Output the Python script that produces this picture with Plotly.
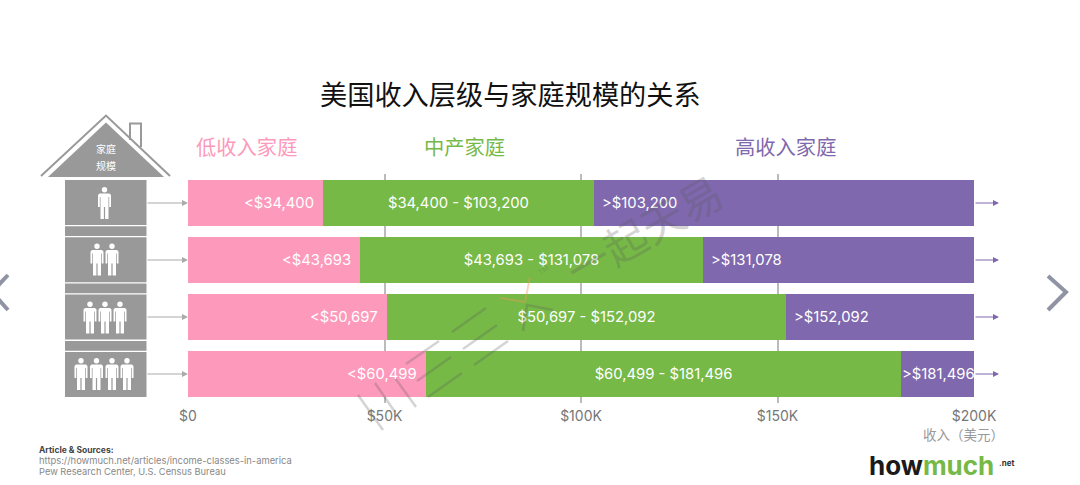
import plotly.graph_objects as go

household_sizes = ["1人", "2人", "3人", "4人"]
low_upper = [34400, 43693, 50697, 60499]
middle_upper = [103200, 131078, 152092, 181496]
axis_max = 200000
tick_values = [0, 50000, 100000, 150000, 200000]
tick_labels = ["$0", "$50K", "$100K", "$150K", "$200K"]
group_names = ["低收入家庭", "中产家庭", "高收入家庭"]

PINK, GREEN, PURPLE = "#fd9abb", "#76b947", "#7f68ad"
GREY = "#999999"
CJK = "Noto Sans CJK SC"
LAT = "Inter, Lato, sans-serif"

L, R, T, B = 188, 974, 174, 403
def px(x): return (x - L) / (R - L)
def py(y): return (B - y) / (B - T)

def fmt(v): return f"${v:,}"

middle_width = [m - l for l, m in zip(low_upper, middle_upper)]
high_width = [axis_max - m for m in middle_upper]

fig = go.Figure()
fig.add_bar(y=household_sizes, x=low_upper, orientation="h", marker=dict(color=PINK, line_width=0), hoverinfo="skip")
fig.add_bar(y=household_sizes, x=middle_width, orientation="h", marker=dict(color=GREEN, line_width=0), hoverinfo="skip",
            text=[f"{fmt(l)} - {fmt(m)}" for l, m in zip(low_upper, middle_upper)],
            textposition="inside", insidetextanchor="middle", textangle=0,
            textfont=dict(family=LAT, size=14.8, color="white"))
fig.add_bar(y=household_sizes, x=high_width, orientation="h", marker=dict(color=PURPLE, line_width=0), hoverinfo="skip")

ann = []
shapes = []

def text(x, y, s, size, color, anchor="center", font=CJK, rot=0):
    ann.append(dict(x=px(x), y=py(y), xref="paper", yref="paper", text=s, showarrow=False,
                    xanchor=anchor, yanchor="middle", textangle=rot,
                    font=dict(family=font, size=size, color=color)))

for cat, l, m in zip(household_sizes, low_upper, middle_upper):
    ann.append(dict(x=l, y=cat, xref="x", yref="y", text="&lt;" + fmt(l), showarrow=False, xanchor="right", xshift=-7,
                    font=dict(family=LAT, size=14.8, color="white")))
    ann.append(dict(x=m, y=cat, xref="x", yref="y", text="&gt;" + fmt(m), showarrow=False, xanchor="left",
                    xshift=6 if m < 170000 else -1,
                    font=dict(family=LAT, size=14.8, color="white")))

# title and group heads
text(510.5, 93, "美国收入层级与家庭规模的关系", 27.2, "#111111")
for x, s, c in zip([246, 464, 785], group_names, [PINK, GREEN, PURPLE]):
    text(x, 146, s, 20.3, c)

# footer
text(921, 434, "收入（美元）", 13.5, "#999999", anchor="left")
text(37, 450, "<b>Article &amp; Sources:</b>", 8.5, "#444444", anchor="left", font=LAT)
text(37, 460.5, "https://howmuch.net/articles/income-classes-in-america", 9.4, "#888888", anchor="left", font=LAT)
text(37, 471.5, "Pew Research Center, U.S. Census Bureau", 9.3, "#888888", anchor="left", font=LAT)
text(867, 465, "<b>how</b><b style='color:#76b947'>much</b>", 26, "#1a1a1a", anchor="left", font=LAT)
text(997, 462.5, "<b>.net</b>", 8, "#333333", anchor="left", font=LAT)

# house
def path(points, close=True):
    d = "M" + " L".join(f"{px(x):.5f},{py(y):.5f}" for x, y in points)
    return d + (" Z" if close else "")

def add_path(points, fill=None, line=None, width=0, close=True):
    shapes.append(dict(type="path", xref="paper", yref="paper", path=path(points, close), layer="above",
                       fillcolor=fill if fill else "rgba(0,0,0,0)",
                       line=dict(color=line if line else "rgba(0,0,0,0)", width=width)))

def rect(x0, y0, x1, y1, fill):
    shapes.append(dict(type="rect", xref="paper", yref="paper", x0=px(x0), x1=px(x1), y0=py(y0), y1=py(y1),
                       fillcolor=fill, line_width=0, layer="above"))

add_path([(41, 176), (106, 115.5), (170, 176)], line=GREY, width=2, close=False)
add_path([(48, 177), (106, 122.5), (164, 177)], fill=GREY)
add_path([(130, 140), (130, 123.5), (141, 123.5), (141, 147)], line=GREY, width=2, close=False)
text(106, 148, "家庭", 10, "white")
text(106, 166, "规模", 10, "white")

for y0 in [180, 237.2, 294.6, 352]:
    rect(65, y0, 146.5, y0 + 45, GREY)
for y0 in [226.3, 283.6, 341]:
    rect(65, y0, 146.5, y0 + 9.7, GREY)

def person(cx, top):
    shapes.append(dict(type="circle", xref="paper", yref="paper", layer="above", fillcolor="white", line_width=0,
                       x0=px(cx - 2.7), x1=px(cx + 2.7), y0=py(top + 5.4), y1=py(top)))
    add_path([(cx - 5, top + 6.5), (cx + 5, top + 6.5), (cx + 6.5, top + 8), (cx + 6.5, top + 20),
              (cx + 4.7, top + 20), (cx + 4.7, top + 10), (cx + 4, top + 10), (cx + 4, top + 32),
              (cx + 0.6, top + 32), (cx + 0.6, top + 20), (cx - 0.6, top + 20), (cx - 0.6, top + 32),
              (cx - 4, top + 32), (cx - 4, top + 10), (cx - 4.7, top + 10), (cx - 4.7, top + 20),
              (cx - 6.5, top + 20), (cx - 6.5, top + 8)], fill="white")

for top, xs in [(187, [104.5]), (243.5, [97, 112]), (301.5, [90, 105, 120]), (358, [81, 96.5, 112, 127])]:
    for cx in xs:
        person(cx, top)

# arrows
for y in [203, 260, 317, 374]:
    ann.append(dict(x=px(188), y=py(y), ax=-42, ay=0, xref="paper", yref="paper", axref="pixel", ayref="pixel",
                    text="", showarrow=True, arrowhead=2, arrowsize=1.2, arrowwidth=1, arrowcolor="#aaaaaa", standoff=0))
    ann.append(dict(x=px(999), y=py(y), ax=-25, ay=0, xref="paper", yref="paper", axref="pixel", ayref="pixel",
                    text="", showarrow=True, arrowhead=2, arrowsize=1.2, arrowwidth=1, arrowcolor=PURPLE, standoff=0))

# carousel chevrons
add_path([(8, 275), (-8, 292), (8, 310)], line="#8f93a3", width=4, close=False)
add_path([(1048, 276), (1066, 292), (1048, 310)], line="#8f93a3", width=4, close=False)

# watermark
WM = "rgba(90,90,90,0.26)"
text(643, 229, "一起天易", 43, WM, rot=-30)
text(543, 270, "TM", 7, WM, rot=-35, font=LAT)
for a, b in [((358, 395), (383, 430)), ((375, 383), (395, 412)), ((395, 378), (416, 407)),
             ((406, 364), (439, 341)), ((417, 381), (451, 357)), ((428, 397), (462, 373)),
             ((452, 332), (486, 308)), ((463, 349), (497, 325)), ((474, 365), (508, 341))]:
    add_path([a, b], line=WM, width=2.5, close=False)
add_path([(500, 298), (525, 302), (530, 277)], line="rgba(240,150,90,0.4)", width=2, close=False)
add_path([(523, 331), (527, 305), (553, 310)], line=WM, width=2.5, close=False)

fig.update_layout(
    width=1080, height=485, autosize=False,
    barmode="stack", bargap=0.196, showlegend=False,
    paper_bgcolor="white", plot_bgcolor="white",
    margin=dict(l=L, r=1080 - R, t=T, b=485 - B, pad=0),
    annotations=ann, shapes=shapes,
    xaxis=dict(range=[0, axis_max], tickvals=tick_values, ticktext=tick_labels, showgrid=True, gridcolor="#bbbbbb",
               gridwidth=1.5, zeroline=False, showline=False, ticks="", ticklabelstandoff=3,
               tickfont=dict(family=LAT, size=14, color="#777777"), fixedrange=True),
    yaxis=dict(categoryorder="array", categoryarray=household_sizes[::-1], showticklabels=False, showgrid=False,
               zeroline=False, showline=False, fixedrange=True),
)
fig.write_html("out.html", post_script="document.body.style.margin='0';", config={"displayModeBar": False})
